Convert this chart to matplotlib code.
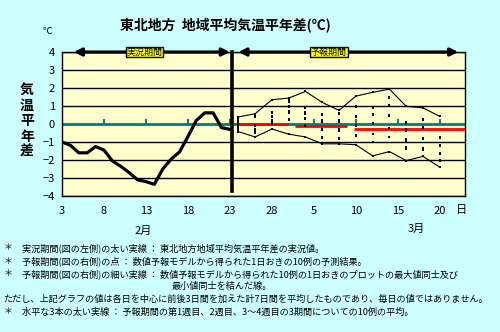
import matplotlib.pyplot as plt
import numpy as np

plt.rcParams['font.family'] = ['Noto Sans CJK JP', 'DejaVu Sans']

# observed (Feb 3 = day 0)
obs_days = list(range(0, 21))
obs_vals = [-1.0, -1.18, -1.6, -1.6, -1.25, -1.45, -2.05, -2.35, -2.7, -3.1, -3.2,
            -3.35, -2.5, -1.95, -1.55, -0.7, 0.2, 0.62, 0.62, -0.2, -0.3]

# forecast, every other day
fc_days = list(range(21, 46, 2))
fc_max = [0.39, 0.57, 1.35, 1.44, 1.81, 1.2, 0.76, 1.55, 1.76, 1.94, 0.98, 0.9, 0.42]
fc_min = [-0.42, -0.72, -0.28, -0.56, -0.72, -1.1, -1.1, -1.15, -1.77, -1.53, -2.03, -1.8, -2.4]
members = [
    [0.39, 0.3, 0.2, 0.1, 0.0, -0.12, -0.2, -0.3, -0.36, -0.42],
    [0.57, 0.5, 0.38, -0.05, -0.12, -0.25, -0.32, -0.45, -0.5, -0.72],
    [1.35, 0.68, 0.62, 0.45, 0.38, 0.25, 0.18, 0.05, 0.0, -0.28],
    [1.44, 1.32, 1.25, 1.0, 0.92, 0.7, 0.62, 0.3, 0.22, -0.56],
    [1.81, 0.95, 0.88, 0.65, 0.58, 0.35, 0.28, -0.05, -0.12, -0.72],
    [1.2, 0.55, 0.48, 0.2, 0.12, -0.25, -0.32, -0.7, -0.78, -1.1],
    [0.76, 0.62, 0.55, 0.2, 0.12, -0.3, -0.38, -0.75, -0.82, -1.1],
    [1.55, 1.0, 0.92, 0.45, 0.38, -0.05, -0.12, -0.6, -0.68, -1.15],
    [1.76, 0.96, 0.88, 0.55, 0.48, 0.05, -0.02, -0.55, -1.0, -1.77],
    [1.94, 1.5, 1.42, 1.05, 0.98, 0.5, 0.42, -0.2, -0.7, -1.53],
    [0.98, 0.12, 0.05, -0.3, -0.38, -0.85, -0.92, -1.3, -1.38, -2.03],
    [0.9, 0.3, 0.22, -0.15, -0.22, -0.75, -0.82, -1.35, -1.42, -1.8],
    [0.42, -0.72, -0.8, -1.15, -1.22, -1.6, -1.68, -2.0, -2.08, -2.4],
]

# weekly means
week_start = [21, 27.7, 34.8]
week_end = [26.9, 34.0, 48]
week_mean = [0.0, -0.1, -0.3]

tick_pos = [0, 5, 10, 15, 20, 25, 30, 35, 40, 45]
tick_labels = ['3', '8', '13', '18', '23', '28', '5', '10', '15', '20']

fig = plt.figure(figsize=(5, 3.32), dpi=100, facecolor='#CCFFFF')
ax = fig.add_axes([0.124, 0.4096, 0.806, 0.4337], facecolor='#FFFFCC')
ax.set_xlim(0, 48)
ax.set_ylim(-4, 4)

ax.set_yticks(range(-4, 5))
ax.grid(axis='y', color='black', lw=1)
ax.set_axisbelow(True)
ax.set_xticks(tick_pos)
ax.set_xticklabels(tick_labels)
ax.tick_params(axis='both', length=0, labelsize=8)
ax.tick_params(axis='y', pad=5)
ax.tick_params(axis='x', pad=7)
for s in ax.spines.values():
    s.set_color('black')
    s.set_linewidth(1)

# zero line with small ticks
ax.axhline(0, color='#008080', lw=2, zorder=2)
for t in tick_pos:
    ax.plot([t, t], [0, 0.22], color='#008080', lw=1.5, zorder=2)

for x0, x1, m in zip(week_start, week_end, week_mean):
    ax.plot([x0, x1], [m, m], color='#FF0000', lw=2, zorder=3, solid_capstyle='butt')

ax.plot(fc_days, fc_max, color='black', lw=0.8, zorder=4)
ax.plot(fc_days, fc_min, color='black', lw=0.8, zorder=4)
for d, vals in zip(fc_days, members):
    ax.plot([d] * len(vals), vals, ls='none', marker='s', ms=2, mew=0, color='black', zorder=5)

ax.plot(obs_days, obs_vals, color='black', lw=2.3, zorder=6, solid_joinstyle='round')
ax.plot([20.2, 20.2], [4, -3.72], color='black', lw=2.6, zorder=7, clip_on=False)

# period arrows
arr = dict(arrowstyle='<|-|>', color='black', lw=2.3, mutation_scale=11, shrinkA=0, shrinkB=0)
ax.annotate('', xy=(1.4, 4), xytext=(20.0, 4), arrowprops=arr, zorder=8)
ax.annotate('', xy=(21.0, 4), xytext=(47.2, 4), arrowprops=arr, zorder=8)
box = dict(boxstyle='square,pad=0.08', fc='#FFFF00', ec='black', lw=1)
ax.text(9.8, 4, '実況期間', ha='center', va='center', fontsize=6.5, bbox=box, zorder=9)
ax.text(31.8, 4, '予報期間', ha='center', va='center', fontsize=6.5, bbox=box, zorder=9)


def px(x, y):
    return x / 500, 1 - y / 332


fig.text(*px(225, 26), '東北地方  地域平均気温平年差(℃)', ha='center', va='center',
         fontsize=10, fontweight='bold')
fig.text(*px(47, 31), '℃', ha='center', va='center', fontsize=7)
for i, ch in enumerate('気温平年差'):
    fig.text(*px(27, 90 + i * 15.5), ch, ha='center', va='center', fontsize=10, fontweight='bold')
fig.text(*px(462, 210), '日', ha='center', va='center', fontsize=8)
fig.text(*px(143, 231), '2月', ha='center', va='center', fontsize=8)
fig.text(*px(416, 229), '3月', ha='center', va='center', fontsize=8)

for y in [248, 261, 274, 312]:
    fig.text(*px(8, y), '＊', ha='center', va='center', fontsize=6.5)

lines = [
    (22, 248, '実況期間(図の左側)の太い実線 ： 東北地方地域平均気温平年差の実況値。'),
    (22, 261, '予報期間(図の右側)の点 ： 数値予報モデルから得られた1日おきの10例の予測結果。'),
    (22, 274, '予報期間(図の右側)の細い実線 ： 数値予報モデルから得られた10例の1日おきのプロットの最大値同士及び'),
    (172, 286, '最小値同士を結んだ線。'),
    (3, 299, 'ただし、上記グラフの値は各日を中心に前後3日間を加えた計7日間を平均したものであり、毎日の値ではありません。'),
    (22, 312, '水平な3本の太い実線 ： 予報期間の第1週目、2週目、3～4週目の3期間についての10例の平均。'),
]
for x, y, s in lines:
    fig.text(*px(x, y), s, ha='left', va='center', fontsize=6.6)

fig.savefig('out.png', dpi=100, facecolor=fig.get_facecolor())
